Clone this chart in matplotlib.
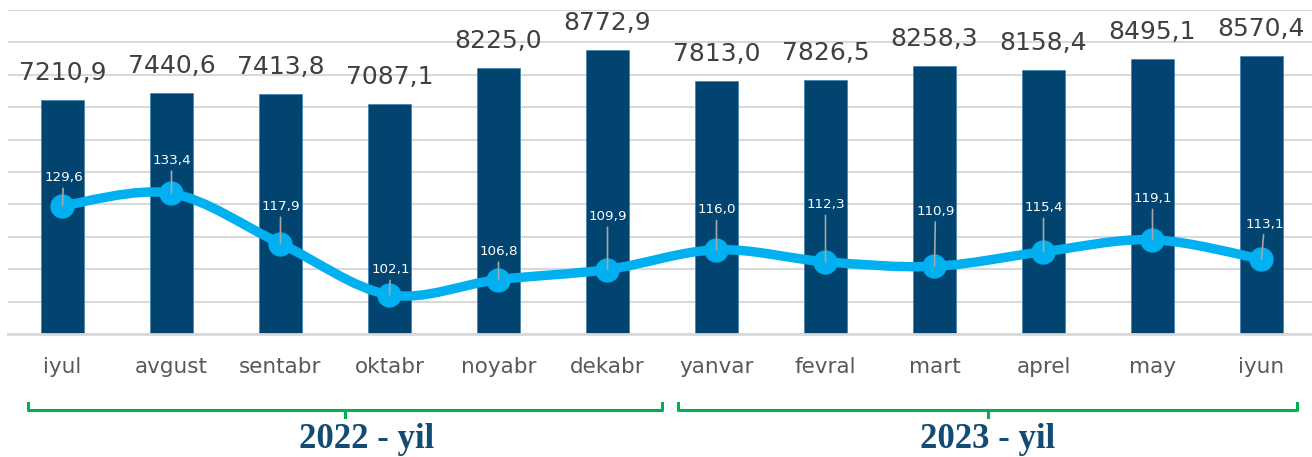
import numpy as np
import matplotlib
matplotlib.use("Agg")
import matplotlib.pyplot as plt
from matplotlib.path import Path
from matplotlib.patches import PathPatch
import matplotlib.transforms as mtransforms

# data
months = ["iyul", "avgust", "sentabr", "oktabr", "noyabr", "dekabr",
          "yanvar", "fevral", "mart", "aprel", "may", "iyun"]
bar_values = [7210.9, 7440.6, 7413.8, 7087.1, 8225.0, 8772.9,
              7813.0, 7826.5, 8258.3, 8158.4, 8495.1, 8570.4]
index_values = [129.6, 133.4, 117.9, 102.1, 106.8, 109.9,
                116.0, 112.3, 110.9, 115.4, 119.1, 113.1]
year_labels = ["2022 - yil", "2023 - yil"]

# layout: bracket extents in category units, label offsets in pixels (y up)
year_brackets = [(-0.32, 5.5), (5.65, 11.33)]
year_text_shift = [22, 0]
index_label_offsets = [(1, 28), (0, 33), (0, 37), (1, 25), (0, 28), (0, 53),
                       (0, 40), (0, 57), (1, 55), (0, 44), (0, 41), (3, 35)]

BAR_COLOR = "#00446F"
LINE_COLOR = "#00B0F0"
GRID_COLOR = "#D9D9D9"
YEAR_COLOR = "#124B74"
BRACKET_COLOR = "#00B050"

W, H = 1312, 457
fig = plt.figure(figsize=(W / 100, H / 100), dpi=100)
ax = fig.add_axes([8 / W, 123 / H, 1308 / W, 324 / H])

x = np.arange(len(months))
ax.bar(x, bar_values, width=0.4, color=BAR_COLOR, edgecolor="#3F7FAF",
       linewidth=0.5, zorder=2)
ax.set_xlim(-0.5, len(months) - 0.5)
ax.set_ylim(0, 10000)
ax.set_yticks(np.arange(0, 10001, 1000))
ax.yaxis.grid(True, color=GRID_COLOR, linewidth=1.5, zorder=0)
ax.set_axisbelow(True)
ax.set_xticks(x)
ax.set_xticklabels(months)
for s in ["top", "left", "right"]:
    ax.spines[s].set_visible(False)
ax.spines["bottom"].set_color(GRID_COLOR)
ax.spines["bottom"].set_linewidth(2)

for xi, v in zip(x, bar_values):
    ax.annotate(f"{v:.1f}".replace(".", ","), (xi, v), xytext=(0, 27 * 0.72),
                textcoords="offset points", ha="center", va="center",
                fontsize=18, color="#404040", zorder=5)

# secondary axis for the index line
ax2 = ax.twinx()
ax2.set_ylim(90, 190)
ax2.set_axis_off()

# twinx turns the left ticks back on, so switch them off here
ax.tick_params(axis="y", which="both", left=False, right=False, labelleft=False)
ax.tick_params(axis="x", bottom=False, labelsize=15.5, labelcolor="#595959", pad=13)

# smoothed line (Excel-like bezier through the points)
pts = np.column_stack([x, index_values]).astype(float)
verts = [pts[0]]
codes = [Path.MOVETO]
n = len(pts)
for i in range(n - 1):
    p0 = pts[max(i - 1, 0)]
    p1 = pts[i]
    p2 = pts[i + 1]
    p3 = pts[min(i + 2, n - 1)]
    c1 = p1 + (p2 - p0) / 6
    c2 = p2 - (p3 - p1) / 6
    verts += [c1, c2, p2]
    codes += [Path.CURVE4] * 3
ax2.add_patch(PathPatch(Path(verts, codes), facecolor="none", edgecolor=LINE_COLOR,
                        linewidth=6.8, capstyle="round", joinstyle="round", zorder=3))
ax2.plot(x, index_values, linestyle="none", marker="o", markersize=16.5,
         color=LINE_COLOR, zorder=4)

for xi, v, (dx, dy) in zip(x, index_values, index_label_offsets):
    ax2.annotate(f"{v:.1f}".replace(".", ","), (xi, v),
                 xytext=(dx * 0.72, dy * 0.72), textcoords="offset points",
                 ha="center", va="center", fontsize=9.7, color="white", zorder=6,
                 arrowprops=dict(arrowstyle="-", color="#A6A6A6", lw=1.2,
                                 shrinkA=1, shrinkB=0))

# year brackets under the month labels
trans = mtransforms.blended_transform_factory(ax.transData, fig.transFigure)
y_line = 1 - 410 / H
y_up = 1 - 403 / H
y_down = 1 - 417 / H
for (x0, x1), label, shift in zip(year_brackets, year_labels, year_text_shift):
    xm = (x0 + x1) / 2
    fig.add_artist(plt.Line2D([x0, x0, x1, x1], [y_up, y_line, y_line, y_up],
                              transform=trans, color=BRACKET_COLOR, lw=2.2))
    fig.add_artist(plt.Line2D([xm, xm], [y_line, y_down], transform=trans,
                              color=BRACKET_COLOR, lw=2.2))
    txt_trans = trans + mtransforms.ScaledTranslation(shift / 100, 0, fig.dpi_scale_trans)
    fig.text(xm, 1 - 440 / H, label, transform=txt_trans, ha="center", va="center",
             fontsize=25, fontweight="bold", family="Liberation Serif", color=YEAR_COLOR)

fig.savefig("out.png", dpi=100)
